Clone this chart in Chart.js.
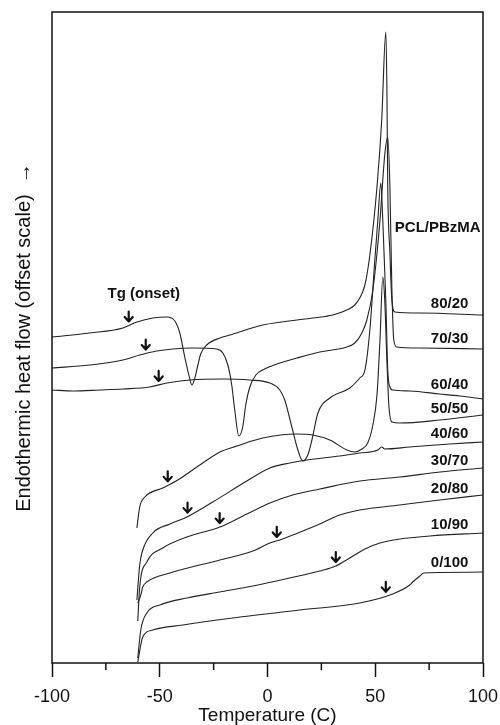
<!DOCTYPE html>
<html>
<head>
<meta charset="utf-8">
<script src="https://cdn.jsdelivr.net/npm/chart.js@4.4.1/dist/chart.umd.min.js"></script>
<style>
  html, body { margin: 0; padding: 0; background: #fff; }
  canvas { display: block; }
</style>
</head>
<body>
<canvas id="dscChart" width="500" height="725"></canvas>
<script>
// composition labels (PCL/PBzMA), top to bottom
const blends = ['80/20', '70/30', '60/40', '50/50', '40/60', '30/70', '20/80', '10/90', '0/100'];

// Tg onset marked by the arrows (C)
const tgOnset = [-64.4, -56.5, -50.5, -46.3, -37.1, -22.2, 4.3, 31.7, 54.9];

// temperature (C) and offset heat flow (arbitrary units) per blend
const t8020 = [-100, -82.5, -67.1, -60.6, -53.2, -46.7, -43.0, -40.7, -38.4, -36.5, -35.1, -33.7, -32.3, -31.0, -28.2, -22.1, -17.5, -2.2, 21.0, 30.3, 36.8, 40.5, 42.8, 45.2, 47.5, 50.8, 53.0, 54.9, 55.4, 55.8, 56.8, 57.7, 59.1, 70.7, 100];
const h8020 = [326, 330, 335, 341, 345, 346, 342, 330, 306, 288, 278, 285, 298, 309, 318, 325, 328, 338, 345, 348, 353, 358, 365, 378, 408, 476, 543, 631, 576, 476, 410, 363, 351, 350, 348];

const t7030 = [-100, -82.5, -67.1, -59.3, -51.4, -43.9, -34.7, -23.5, -20.7, -18.4, -16.6, -15.2, -13.3, -11.5, -10.1, -8.2, -5.4, -2.2, 5.7, 13.6, 24.3, 36.8, 40.5, 43.8, 46.1, 48.9, 52.2, 54.4, 55.8, 56.8, 57.7, 58.6, 60.0, 70.7, 100];
const h7030 = [295, 298, 303, 308, 312, 314, 315, 314, 310, 298, 278, 253, 227, 236, 258, 276, 288, 293, 300, 305, 311, 316, 320, 330, 343, 373, 443, 508, 526, 476, 376, 323, 316, 315, 314];

const t6040 = [-100, -90.3, -77.8, -67.1, -54.6, -46.7, -36.1, -20.7, -8.2, 1.1, 5.7, 8.0, 11.3, 14.1, 16.4, 18.7, 20.6, 23.4, 28.9, 38.2, 42.8, 45.2, 47.5, 49.8, 51.2, 52.6, 53.5, 54.9, 55.8, 56.8, 58.1, 66.0, 80.0, 89.2, 100];
const h6040 = [273, 272, 273, 274, 276, 280, 283, 284, 283, 280, 273, 263, 236, 213, 202, 208, 223, 250, 265, 275, 285, 293, 333, 403, 443, 480, 443, 363, 293, 276, 273, 272, 269, 267, 264];

const t5050 = [-60.6, -59.3, -56.9, -48.6, -41.6, -31.4, -22.1, -14.2, -2.2, 13.6, 21.0, 28.9, 36.8, 40.5, 43.8, 46.5, 48.9, 50.8, 52.2, 53.5, 54.4, 55.4, 56.3, 57.7, 61.4, 80.0, 100];
const h5050 = [135, 156, 166, 175, 183, 198, 211, 217, 225, 229, 228, 223, 213, 211, 214, 220, 238, 268, 323, 386, 363, 303, 258, 241, 240, 243, 248];

const t4060 = [-60.6, -59.3, -58.3, -53.2, -45.3, -37.4, -25.4, -9.6, 1.1, 10.3, 18.2, 33.5, 42.8, 51.2, 53.0, 54.4, 66.0, 84.6, 100];
const h4060 = [63, 98, 110, 130, 139, 146, 161, 182, 195, 200, 203, 207, 210, 213, 216, 214, 216, 219, 221];

const t3070 = [-60.2, -59.3, -56.0, -48.6, -37.4, -22.1, -9.6, 1.1, 11.7, 24.3, 42.8, 61.4, 80.0, 100];
const h3070 = [42, 76, 101, 115, 126, 136, 149, 160, 168, 174, 182, 186, 191, 195];

const t2080 = [-60.2, -58.8, -57.9, -56.0, -45.3, -22.1, -6.8, 1.1, 5.7, 14.1, 24.3, 33.5, 42.8, 61.4, 80.0, 100];
const h2080 = [60, 68, 76, 81, 90, 103, 112, 120, 123, 130, 139, 148, 153, 158, 163, 168];

const t1090 = [-60.2, -58.8, -56.0, -50.0, -37.4, -22.1, -6.8, 10.3, 24.3, 31.7, 38.2, 45.2, 52.2, 61.4, 75.4, 100];
const h1090 = [5, 33, 50, 58, 65, 71, 77, 85, 92, 97, 105, 114, 120, 124, 127, 130];

const t0100 = [-60.2, -57.9, -53.2, -39.3, -16.1, 15.0, 42.8, 58.1, 66.0, 67.4, 70.7, 72.5, 80.0, 100];
const h0100 = [1, 26, 33, 38, 45, 53, 60, 69, 78, 81, 87, 90, 90.5, 91];

const xTicks = [-100, -50, 0, 50, 100];
const xMinorTicks = [-75, -25, 25, 75];

const curves = [
  [t8020, h8020], [t7030, h7030], [t6040, h6040], [t5050, h5050], [t4060, h4060],
  [t3070, h3070], [t2080, h2080], [t1090, h1090], [t0100, h0100],
];

const FONT = '"Liberation Sans", Arial, sans-serif';

function valueAt(ts, hs, t) {
  for (let i = 1; i < ts.length; i += 1) {
    if (t <= ts[i]) {
      const f = (t - ts[i - 1]) / (ts[i] - ts[i - 1]);
      return hs[i - 1] + f * (hs[i] - hs[i - 1]);
    }
  }
  return hs[hs.length - 1];
}

function drawArrow(ctx, cx, cy) {
  ctx.beginPath();
  ctx.moveTo(cx, cy - 5);
  ctx.lineTo(cx, cy + 5);
  ctx.moveTo(cx - 4, cy + 0.5);
  ctx.lineTo(cx, cy + 5);
  ctx.lineTo(cx + 4, cy + 0.5);
  ctx.stroke();
}

const decor = {
  id: 'decor',
  afterDatasetsDraw(chart) {
    const { ctx, chartArea: a, scales: { x, y } } = chart;
    ctx.save();
    ctx.strokeStyle = '#111';
    ctx.lineWidth = 1.5;
    ctx.strokeRect(a.left, a.top, a.right - a.left, a.bottom - a.top);

    // minor ticks between the labelled ones
    xMinorTicks.forEach((v) => {
      const px = x.getPixelForValue(v);
      ctx.beginPath();
      ctx.moveTo(px, a.bottom);
      ctx.lineTo(px, a.bottom + 7);
      ctx.stroke();
    });

    // Tg onset arrows
    ctx.lineWidth = 2.2;
    ctx.lineCap = 'round';
    ctx.lineJoin = 'round';
    curves.forEach(([ts, hs], i) => {
      const px = x.getPixelForValue(tgOnset[i]);
      const py = y.getPixelForValue(valueAt(ts, hs, tgOnset[i])) - 9;
      drawArrow(ctx, px, py);
    });

    // composition labels
    ctx.fillStyle = '#111';
    ctx.font = `bold 15px ${FONT}`;
    ctx.textAlign = 'center';
    ctx.textBaseline = 'middle';
    const labelT = 84.5;
    curves.forEach(([ts, hs], i) => {
      const v = valueAt(ts, hs, labelT);
      ctx.fillText(blends[i], x.getPixelForValue(labelT), y.getPixelForValue(v) - 10);
    });
    ctx.fillText('PCL/PBzMA', x.getPixelForValue(79), y.getPixelForValue(435));
    ctx.fillText('Tg (onset)', x.getPixelForValue(-57.4), y.getPixelForValue(369));
    ctx.restore();
  },
};

document.addEventListener('DOMContentLoaded', () => {
  const ctx = document.getElementById('dscChart');
  // eslint-disable-next-line no-unused-vars,no-undef
  const dscChart = new Chart(ctx, {
    type: 'line',
    data: {
      datasets: curves.map(([ts, hs], i) => ({
        label: blends[i],
        data: ts.map((t, k) => ({ x: t, y: hs[k] })),
        borderColor: '#222',
        borderWidth: 1.1,
        pointRadius: 0,
        fill: false,
        cubicInterpolationMode: 'monotone',
      })),
    },
    options: {
      responsive: false,
      animation: false,
      layout: { padding: { left: 9, right: 17, top: 12, bottom: 0 } },
      plugins: {
        legend: { display: false },
        tooltip: { enabled: false },
      },
      scales: {
        x: {
          type: 'linear',
          min: -100,
          max: 100,
          afterBuildTicks: (scale) => {
            scale.ticks = xTicks.map((v) => ({ value: v }));
          },
          afterFit: (scale) => {
            scale.paddingLeft = 0;
            scale.paddingRight = 0;
            scale.height = 62;
          },
          ticks: {
            autoSkip: false,
            maxRotation: 0,
            padding: 10,
            color: '#111',
            font: { family: FONT, size: 18, lineHeight: 1.1 },
          },
          grid: {
            display: true,
            drawOnChartArea: false,
            drawTicks: true,
            tickLength: 14,
            tickWidth: 1.5,
            tickColor: '#111',
          },
          border: { display: false },
          title: {
            display: true,
            text: 'Temperature (C)',
            color: '#111',
            font: { family: FONT, size: 19, lineHeight: 1 },
            padding: { top: 0, bottom: 0 },
          },
        },
        y: {
          min: 0,
          max: 651,
          ticks: { display: false },
          grid: { display: false, drawTicks: false },
          border: { display: false },
          title: {
            display: true,
            text: 'Endothermic heat flow (offset scale)  \u2192',
            color: '#111',
            font: { family: FONT, size: 20, lineHeight: 1.2 },
            padding: { top: 3, bottom: 16 },
          },
        },
      },
    },
    plugins: [decor],
  });
});
</script>
</body>
</html>
